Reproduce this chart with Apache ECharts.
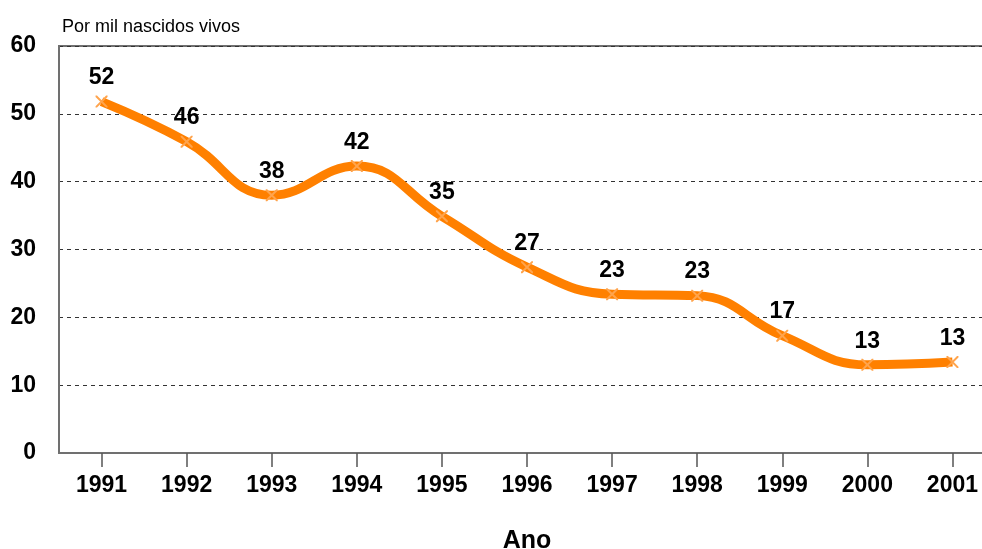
<!DOCTYPE html>
<html>
<head>
<meta charset="utf-8">
<script src="https://cdn.jsdelivr.net/npm/echarts@6/dist/echarts.min.js"></script>
<style>
html,body{margin:0;padding:0;background:#fff;}
#chart{width:982px;height:549px;}
</style>
</head>
<body>
<div id="chart"></div>
<script>
var years = ['1991','1992','1993','1994','1995','1996','1997','1998','1999','2000','2001'];
var values = [51.8, 45.9, 38.0, 42.3, 34.9, 27.4, 23.4, 23.2, 17.3, 13.0, 13.4];
var labels = [52, 46, 38, 42, 35, 27, 23, 23, 17, 13, 13];
var yTicks = [0, 10, 20, 30, 40, 50, 60];
var yTitle = 'Por mil nascidos vivos';
var xTitle = 'Ano';

var chart = echarts.init(document.getElementById('chart'));
var font = '"Liberation Sans", Arial, sans-serif';
var xMark = 'path://M0,0L1.2,0L10,8.8L10,10L8.8,10L0,1.2Z M8.8,0L10,0L10,1.2L1.2,10L0,10L0,8.8Z';
chart.setOption({
  animation: false,
  backgroundColor: '#fff',
  title: {
    text: yTitle, left: 57, top: 13,
    textStyle: {fontFamily: font, fontSize: 18, fontWeight: 'normal', color: '#000'}
  },
  grid: {left: 59, top: 46, width: 936, height: 407, outerBoundsMode: 'none', containLabel: false,
    show: true, borderColor: '#707070', borderWidth: 2, backgroundColor: 'transparent'},
  xAxis: {
    type: 'category', data: years, boundaryGap: true,
    name: xTitle, nameLocation: 'middle', nameGap: 76,
    nameTextStyle: {fontFamily: font, fontSize: 25, fontWeight: 'bold', color: '#000'},
    axisLine: {lineStyle: {color: '#707070', width: 2}},
    axisTick: {show: true, interval: 0, alignWithLabel: true, length: 14, lineStyle: {color: '#555', width: 1.5}},
    axisLabel: {fontFamily: font, fontSize: 23, fontWeight: 'bold', color: '#000', margin: 21},
    splitLine: {show: false}
  },
  yAxis: {
    type: 'value', min: yTicks[0], max: yTicks[yTicks.length - 1], interval: 10,
    axisLine: {show: true, lineStyle: {color: '#707070', width: 2}},
    axisTick: {show: false},
    axisLabel: {fontFamily: font, fontSize: 23, fontWeight: 'bold', color: '#000', margin: 23},
    splitLine: {show: true, lineStyle: {color: '#333', width: 1, type: [4, 4]}}
  },
  series: [{
    type: 'line', data: values, smooth: 0.45,
    symbol: xMark, symbolSize: 12,
    lineStyle: {color: '#FF8000', width: 9},
    itemStyle: {color: '#FFA44D'},
    label: {
      show: true, position: 'top', distance: 6,
      fontFamily: font, fontSize: 23, fontWeight: 'bold', color: '#000',
      formatter: function (p) { return labels[p.dataIndex]; }
    }
  }]
});
</script>
</body>
</html>
